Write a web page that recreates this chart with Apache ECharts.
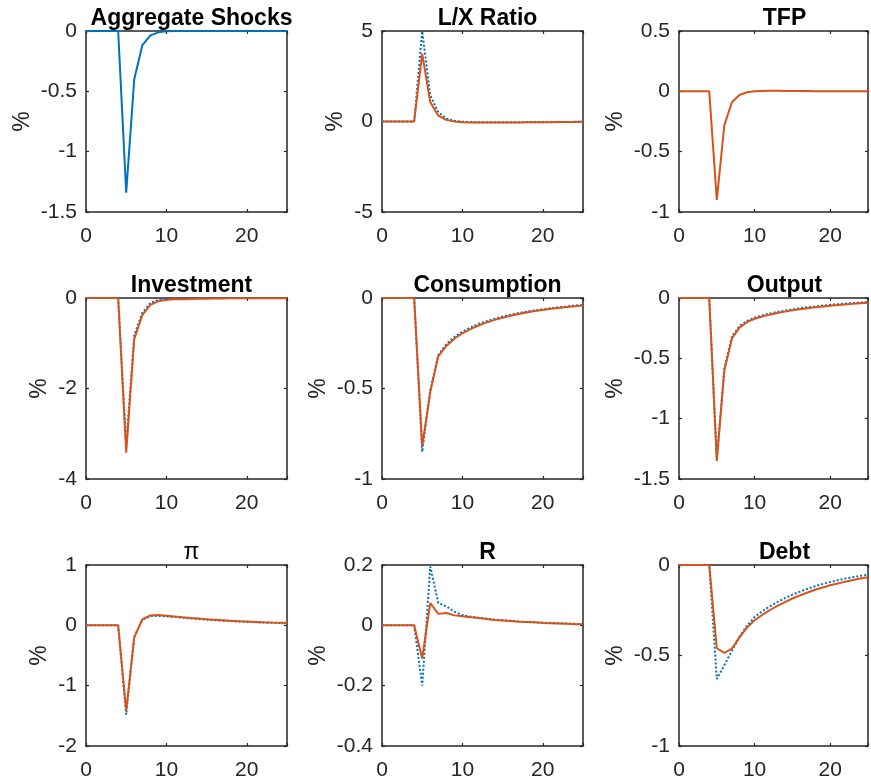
<!DOCTYPE html>
<html>
<head>
<meta charset="utf-8">
<script src="https://cdn.jsdelivr.net/npm/echarts@6/dist/echarts.min.js"></script>
<style>
html,body{margin:0;padding:0;background:#fff;}
#chart{width:871px;height:783px;}
</style>
</head>
<body>
<div id="chart"></div>
<script>
// ---------- data ----------
const periods = [0,1,2,3,4,5,6,7,8,9,10,11,12,13,14,15,16,17,18,19,20,21,22,23,24,25];

const titles = ['Aggregate Shocks','L/X Ratio','TFP','Investment','Consumption','Output','π','R','Debt'];
const yMins = [-1.5,-5,-1,-4,-1,-1.5,-2,-0.4,-1];
const yMaxs = [0,5,0.5,0,0,0,1,0.2,0];
const yIntervals = [0.5,5,0.5,2,0.5,0.5,1,0.2,0.5];
const xTicks = [0,10,20];

const aggShocks  = [0,0,0,0,0,-1.34,-0.40,-0.12,-0.036,-0.011,-0.003,-0.001,0,0,0,0,0,0,0,0,0,0,0,0,0,0];

const lxBlue     = [0,0,0,0,0,4.98,1.45,0.52,0.16,0.04,-0.01,-0.03,-0.04,-0.04,-0.04,-0.04,-0.04,-0.035,-0.035,-0.03,-0.03,-0.03,-0.025,-0.025,-0.02,-0.02];
const lxOrange   = [0,0,0,0,0,3.75,1.07,0.33,0.09,0.0,-0.04,-0.06,-0.06,-0.06,-0.06,-0.055,-0.05,-0.05,-0.045,-0.04,-0.04,-0.035,-0.03,-0.03,-0.025,-0.02];

const tfpOrange  = [0,0,0,0,0,-0.90,-0.28,-0.09,-0.03,-0.008,0.0,0.003,0.004,0.004,0.003,0.003,0.002,0.002,0.001,0.001,0.001,0,0,0,0,0];

const invBlue    = [0,0,0,0,0,-3.25,-0.82,-0.33,-0.11,-0.04,-0.015,-0.008,-0.005,-0.004,-0.003,-0.003,-0.002,-0.002,-0.001,-0.001,-0.001,-0.001,0,0,0,0];
const invOrange  = [0,0,0,0,0,-3.42,-0.91,-0.38,-0.15,-0.07,-0.04,-0.03,-0.025,-0.02,-0.017,-0.014,-0.012,-0.010,-0.008,-0.007,-0.006,-0.005,-0.004,-0.004,-0.003,-0.003];

const consBlue   = [0,0,0,0,0,-0.85,-0.51,-0.315,-0.255,-0.215,-0.186,-0.163,-0.144,-0.128,-0.114,-0.102,-0.092,-0.083,-0.075,-0.068,-0.062,-0.056,-0.051,-0.046,-0.042,-0.038];
const consOrange = [0,0,0,0,0,-0.82,-0.52,-0.322,-0.265,-0.225,-0.195,-0.172,-0.152,-0.135,-0.121,-0.109,-0.098,-0.088,-0.080,-0.072,-0.066,-0.060,-0.055,-0.050,-0.046,-0.042];

const outBlue    = [0,0,0,0,0,-1.33,-0.58,-0.32,-0.232,-0.19,-0.163,-0.144,-0.129,-0.116,-0.105,-0.094,-0.085,-0.077,-0.070,-0.063,-0.057,-0.051,-0.046,-0.042,-0.038,-0.034];
const outOrange  = [0,0,0,0,0,-1.35,-0.60,-0.335,-0.245,-0.200,-0.172,-0.153,-0.138,-0.125,-0.113,-0.102,-0.093,-0.085,-0.077,-0.070,-0.064,-0.058,-0.053,-0.048,-0.044,-0.040];

const piBlue     = [0,0,0,0,0,-1.48,-0.19,0.09,0.15,0.155,0.148,0.137,0.125,0.114,0.104,0.094,0.085,0.077,0.070,0.063,0.057,0.052,0.047,0.042,0.038,0.034];
const piOrange   = [0,0,0,0,0,-1.42,-0.20,0.10,0.165,0.17,0.16,0.148,0.135,0.123,0.112,0.10,0.091,0.083,0.075,0.068,0.062,0.056,0.050,0.045,0.041,0.037];

const rBlue      = [0,0,0,0,0,-0.20,0.195,0.074,0.063,0.045,0.034,0.029,0.025,0.022,0.019,0.017,0.015,0.013,0.011,0.010,0.009,0.008,0.007,0.006,0.005,0.004];
const rOrange    = [0,0,0,0,0,-0.11,0.074,0.038,0.041,0.033,0.030,0.027,0.024,0.021,0.018,0.016,0.014,0.012,0.011,0.010,0.008,0.007,0.006,0.005,0.004,0.004];

const debtBlue   = [0,0,0,0,0,-0.63,-0.553,-0.474,-0.397,-0.335,-0.287,-0.256,-0.229,-0.205,-0.183,-0.164,-0.147,-0.131,-0.117,-0.105,-0.094,-0.084,-0.075,-0.067,-0.060,-0.054];
const debtOrange = [0,0,0,0,0,-0.46,-0.485,-0.462,-0.40,-0.345,-0.305,-0.276,-0.250,-0.226,-0.205,-0.185,-0.168,-0.152,-0.137,-0.124,-0.112,-0.102,-0.092,-0.083,-0.075,-0.068];

const blueSeries   = [aggShocks, lxBlue, null, invBlue, consBlue, outBlue, piBlue, rBlue, debtBlue];
const orangeSeries = [null, lxOrange, tfpOrange, invOrange, consOrange, outOrange, piOrange, rOrange, debtOrange];

// ---------- layout / style ----------
const BLUE = '#0072BD', ORANGE = '#D95319', AX = '#262626';
const colLeft = [86, 382, 679];
const rowTop = [31, 298, 565];
const plotW = 201, plotH = 181;
const FONT = 'Liberation Sans, Arial, Helvetica, sans-serif';
const yNameGap = [52, 35, 52, 35, 52, 52, 35, 52, 52];

const grids = [], xAxes = [], yAxes = [], series = [], titleArr = [];

function pair(arr) { return periods.map((p, i) => [p, arr[i]]); }

for (let k = 0; k < 9; k++) {
  const r = Math.floor(k / 3), c = k % 3;
  const L = colLeft[c], T = rowTop[r];
  grids.push({ left: L, top: T, width: plotW, height: plotH, containLabel: false, show: false });

  const xCommon = {
    type: 'value', gridIndex: k, min: 0, max: 25, interval: 10,
    axisLine: { show: true, onZero: false, lineStyle: { color: AX, width: 1.5 } },
    axisTick: { show: true, inside: true, length: 3, lineStyle: { color: AX, width: 1.2 } },
    splitLine: { show: false }
  };
  xAxes.push(Object.assign({}, xCommon, {
    position: 'bottom',
    axisLabel: {
      show: true, color: AX, fontFamily: FONT, fontSize: 21, margin: 14,
      formatter: v => (xTicks.indexOf(v) >= 0 ? String(v) : '')
    }
  }));
  xAxes.push(Object.assign({}, xCommon, { position: 'top', axisLabel: { show: false } }));

  const yCommon = {
    type: 'value', gridIndex: k, min: yMins[k], max: yMaxs[k], interval: yIntervals[k],
    axisLine: { show: true, onZero: false, lineStyle: { color: AX, width: 1.5 } },
    axisTick: { show: true, inside: true, length: 3, lineStyle: { color: AX, width: 1.2 } },
    splitLine: { show: false }
  };
  yAxes.push(Object.assign({}, yCommon, {
    position: 'left',
    name: '%', nameLocation: 'middle', nameGap: yNameGap[k],
    nameTextStyle: { color: AX, fontFamily: FONT, fontSize: 23 },
    axisLabel: {
      show: true, color: AX, fontFamily: FONT, fontSize: 21, margin: 9,
      formatter: v => { const x = Math.round(v * 1000) / 1000; return String(x === 0 ? 0 : x); }
    }
  }));
  yAxes.push(Object.assign({}, yCommon, { position: 'right', axisLabel: { show: false } }));

  titleArr.push({
    text: titles[k],
    left: L + plotW / 2, top: T - 29, textAlign: 'center',
    textStyle: { color: '#000', fontFamily: FONT, fontSize: 23, fontWeight: titles[k] === 'π' ? 'normal' : 'bold' }
  });

  if (blueSeries[k]) {
    series.push({
      type: 'line', xAxisIndex: 2 * k, yAxisIndex: 2 * k, data: pair(blueSeries[k]),
      symbol: 'none', z: 3,
      lineStyle: { color: BLUE, width: 2, type: k === 0 ? 'solid' : 'dotted' }
    });
  }
  if (orangeSeries[k]) {
    series.push({
      type: 'line', xAxisIndex: 2 * k, yAxisIndex: 2 * k, data: pair(orangeSeries[k]),
      symbol: 'none', z: 4,
      lineStyle: { color: ORANGE, width: 2, type: 'solid' }
    });
  }
}

const chart = echarts.init(document.getElementById('chart'), null, { renderer: 'canvas' });
chart.setOption({
  animation: false,
  backgroundColor: '#fff',
  title: titleArr,
  grid: grids,
  xAxis: xAxes,
  yAxis: yAxes,
  series: series
});
</script>
</body>
</html>
